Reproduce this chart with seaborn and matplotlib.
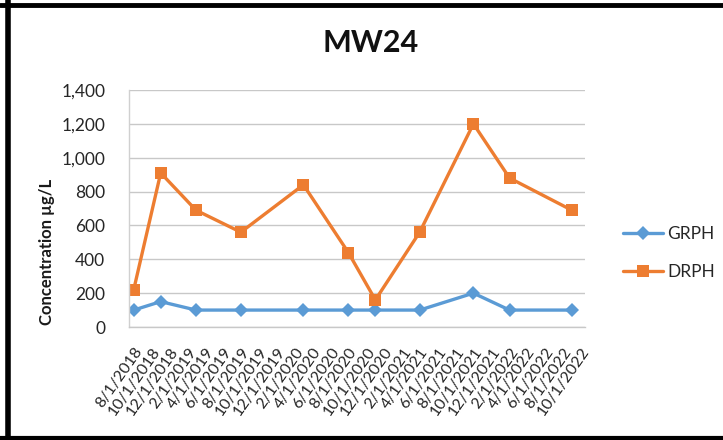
import matplotlib
matplotlib.use("Agg")
import matplotlib.pyplot as plt
import matplotlib.dates as mdates
from matplotlib.ticker import FuncFormatter
from matplotlib.lines import Line2D
import pandas as pd
import seaborn as sns

# Sampling dates (first of the month) and measured concentrations, ug/L
sample_dates = ["2018-08-01", "2018-11-01", "2019-03-01", "2019-08-01",
                "2020-03-01", "2020-08-01", "2020-11-01", "2021-04-01",
                "2021-10-01", "2022-02-01", "2022-09-01"]
grph = [100, 150, 100, 100, 100, 100, 100, 100, 200, 100, 100]
drph = [220, 910, 690, 560, 840, 440, 160, 560, 1200, 880, 690]

series_names = ["GRPH", "DRPH"]
series_colors = {"GRPH": "#5B9BD5", "DRPH": "#ED7D31"}
series_markers = {"GRPH": "D", "DRPH": "s"}

y_ticks = [0, 200, 400, 600, 800, 1000, 1200, 1400]
tick_start, tick_end = "2018-08-01", "2022-10-01"

dates = pd.to_datetime(sample_dates)
df = pd.concat([
    pd.DataFrame({"date": dates, "value": grph, "series": "GRPH"}),
    pd.DataFrame({"date": dates, "value": drph, "series": "DRPH"}),
], ignore_index=True)

sns.set_theme(style="white")
plt.rcParams["font.family"] = ["Lato", "DejaVu Sans"]

fig = plt.figure(figsize=(7.23, 4.40), dpi=100)
ax = fig.add_axes([129 / 723, 1 - 327 / 440, (585 - 129) / 723, (327 - 90) / 440])

sns.lineplot(data=df, x="date", y="value", hue="series", style="series",
             hue_order=series_names, style_order=series_names,
             palette=series_colors, markers=series_markers, dashes=False,
             linewidth=2.4, markersize=7, markeredgewidth=0, ax=ax, legend=False)

# enlarge the square markers a bit
for line in ax.get_lines():
    if line.get_marker() == "s":
        line.set_markersize(8)

# date axis: two-month ticks, half a month of padding at each end
tick_dates = pd.date_range(tick_start, tick_end, freq="2MS")
ax.set_xlim(pd.Timestamp(tick_start) - pd.Timedelta(days=16),
            pd.Timestamp(tick_end) + pd.Timedelta(days=15))
ax.set_xticks(mdates.date2num(tick_dates))
ax.xaxis.set_major_formatter(FuncFormatter(
    lambda v, p: (lambda d: f"{d.month}/{d.day}/{d.year}")(mdates.num2date(v))))
for lbl in ax.get_xticklabels():
    lbl.set_rotation(55)
    lbl.set_ha("right")
    lbl.set_va("top")
    lbl.set_rotation_mode("anchor")
ax.tick_params(axis="x", labelsize=11.5, colors="#262626", length=0, pad=13)

ax.set_ylim(0, 1400)
ax.set_yticks(y_ticks)
ax.yaxis.set_major_formatter(FuncFormatter(lambda v, p: f"{int(v):,}"))
ax.tick_params(axis="y", labelsize=12.5, colors="#262626", length=0, pad=17)

ax.grid(axis="y", color="#C8C8C8", linewidth=1)
ax.grid(axis="x", visible=False)
for side in ["top", "right"]:
    ax.spines[side].set_visible(False)
ax.spines["left"].set_color("#D0D0D0")
ax.spines["bottom"].set_color("#C8C8C8")
ax.spines["left"].set_linewidth(1)
ax.spines["bottom"].set_linewidth(1)

ax.set_xlabel("")
ax.set_ylabel("")
fig.text(47 / 723, 1 - 252 / 440, "Concentration \u00b5g/L", rotation=90,
         ha="center", va="center", fontsize=12, fontweight="bold", color="#1a1a1a")
fig.text(371 / 723, 1 - 43 / 440, "MW24", ha="center", va="center",
         fontsize=22, fontweight="bold", color="#111111")

handles = [Line2D([], [], color=series_colors[s], marker=series_markers[s],
                  markersize=7 if s == "GRPH" else 8, markeredgewidth=0, linewidth=2.4)
           for s in series_names]
fig.legend(handles, series_names, loc="center left",
           bbox_to_anchor=(623 / 723, 1 - 253 / 440), frameon=False,
           borderpad=0, borderaxespad=0,
           fontsize=12.5, handlelength=2.3, handletextpad=0.25, labelspacing=1.25,
           labelcolor="#262626")

# outer chart frame
fig.add_artist(Line2D([0, 1], [1 - 5 / 440] * 2, transform=fig.transFigure,
                      color="black", linewidth=3.5))
fig.add_artist(Line2D([0, 1], [1 - 438 / 440] * 2, transform=fig.transFigure,
                      color="black", linewidth=3))
fig.add_artist(Line2D([8 / 723] * 2, [0, 1], transform=fig.transFigure,
                      color="black", linewidth=4))

fig.savefig("out.png", dpi=100)
